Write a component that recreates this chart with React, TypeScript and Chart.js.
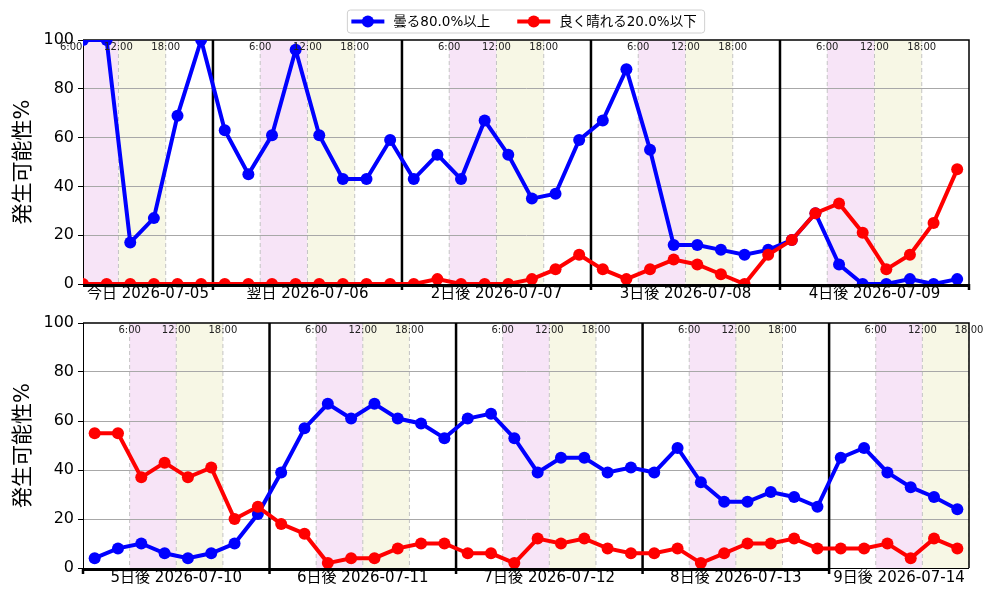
import { useEffect, useRef } from "react";
import { Chart, registerables } from "chart.js";

Chart.register(...registerables);

const FONT = "'DejaVu Sans', 'Noto Sans CJK JP', sans-serif";

const dayLabels = [
  "今日 2026-07-05",
  "翌日 2026-07-06",
  "2日後 2026-07-07",
  "3日後 2026-07-08",
  "4日後 2026-07-09",
  "5日後 2026-07-10",
  "6日後 2026-07-11",
  "7日後 2026-07-12",
  "8日後 2026-07-13",
  "9日後 2026-07-14",
];
const hourMarks = [6, 12, 18];
const hourLabels = ["6:00", "12:00", "18:00"];
const seriesNames = ["曇る80.0%以上", "良く晴れる20.0%以下"];
const seriesColors = ["#0000ff", "#ff0000"];

// 3-hourly values; top panel starts 07-05 7:30, bottom panel starts 07-10 1:30
const topCloudy = [
  100, 100, 17, 27, 69, 100,
  63, 45, 61, 96, 61, 43, 43, 59,
  43, 53, 43, 67, 53, 35, 37, 59,
  67, 88, 55, 16, 16, 14, 12, 14,
  18, 29, 8, 0, 0, 2, 0, 2,
];
const topClear = [
  0, 0, 0, 0, 0, 0,
  0, 0, 0, 0, 0, 0, 0, 0,
  0, 2, 0, 0, 0, 2, 6, 12,
  6, 2, 6, 10, 8, 4, 0, 12,
  18, 29, 33, 21, 6, 12, 25, 47,
];
const bottomCloudy = [
  4, 8, 10, 6, 4, 6, 10, 22,
  39, 57, 67, 61, 67, 61, 59, 53,
  61, 63, 53, 39, 45, 45, 39, 41,
  39, 49, 35, 27, 27, 31, 29, 25,
  45, 49, 39, 33, 29, 24,
];
const bottomClear = [
  55, 55, 37, 43, 37, 41, 20, 25,
  18, 14, 2, 4, 4, 8, 10, 10,
  6, 6, 2, 12, 10, 12, 8, 6,
  6, 8, 2, 6, 10, 10, 12, 8,
  8, 8, 10, 4, 12, 8,
];

type Panel = {
  days: number[];
  min: number; // hours since 07-05 0:00
  max: number;
  first: number;
  cloudy: number[];
  clear: number[];
  padTop: number;
  xHeight: number;
  legend: boolean;
};

const STEP = 3;

const panels: Panel[] = [
  { days: [0, 1, 2, 3, 4], min: 7.5, max: 120, first: 7.5, cloudy: topCloudy, clear: topClear, padTop: 40, xHeight: 21, legend: true },
  { days: [5, 6, 7, 8, 9], min: 120, max: 234, first: 121.5, cloudy: bottomCloudy, clear: bottomClear, padTop: 18, xHeight: 32, legend: false },
];

const toPoints = (p: Panel, vals: number[]) => vals.map((y, i) => ({ x: p.first + i * STEP, y }));

const drawLegend = (chart: any) => {
  const { ctx, chartArea } = chart;
  ctx.save();
  ctx.font = `13.5px ${FONT}`;
  const lineLen = 33;
  const textGap = 9;
  const itemGap = 27;
  const padL = 4;
  const padR = 8;
  const widths = seriesNames.map((n) => ctx.measureText(n).width);
  const total = padL + padR + widths.reduce((s, w) => s + lineLen + textGap + w, 0) + itemGap * (widths.length - 1);
  let x = (chartArea.left + chartArea.right) / 2 - total / 2;
  const top = 10;
  const h = 23;
  const cy = top + h / 2;
  ctx.beginPath();
  ctx.roundRect(x, top, total, h, 3);
  ctx.fillStyle = "rgba(255,255,255,0.8)";
  ctx.fill();
  ctx.strokeStyle = "#d0d0d0";
  ctx.lineWidth = 1;
  ctx.stroke();
  x += padL;
  seriesNames.forEach((n, i) => {
    ctx.strokeStyle = seriesColors[i];
    ctx.fillStyle = seriesColors[i];
    ctx.lineWidth = 4;
    ctx.beginPath();
    ctx.moveTo(x, cy);
    ctx.lineTo(x + lineLen, cy);
    ctx.stroke();
    ctx.beginPath();
    ctx.arc(x + lineLen / 2, cy, 6, 0, Math.PI * 2);
    ctx.fill();
    x += lineLen + textGap;
    ctx.fillStyle = "#000";
    ctx.textAlign = "left";
    ctx.textBaseline = "middle";
    ctx.fillText(n, x, cy + 1);
    x += widths[i] + itemGap;
  });
  ctx.restore();
};

const panelPlugin = (p: Panel) => ({
  id: "panelDecor",
  beforeDraw(chart: any) {
    const { ctx, chartArea: a, scales } = chart;
    const xs = scales.x;
    ctx.save();
    ctx.beginPath();
    ctx.rect(a.left, a.top, a.right - a.left, a.bottom - a.top);
    ctx.clip();
    p.days.forEach((d) => {
      const base = d * 24;
      ctx.fillStyle = "#f7e4f7";
      const x6 = xs.getPixelForValue(base + 6);
      const x12 = xs.getPixelForValue(base + 12);
      const x18 = xs.getPixelForValue(base + 18);
      ctx.fillRect(x6, a.top, x12 - x6, a.bottom - a.top);
      ctx.fillStyle = "#f7f7e5";
      ctx.fillRect(x12, a.top, x18 - x12, a.bottom - a.top);
      ctx.strokeStyle = "#c4c4c4";
      ctx.lineWidth = 1;
      ctx.setLineDash([4, 3]);
      hourMarks.forEach((h) => {
        const px = xs.getPixelForValue(base + h);
        ctx.beginPath();
        ctx.moveTo(px, a.top);
        ctx.lineTo(px, a.bottom);
        ctx.stroke();
      });
      ctx.setLineDash([]);
    });
    ctx.restore();
  },
  beforeDatasetsDraw(chart: any) {
    const { ctx, chartArea: a, scales } = chart;
    const xs = scales.x;
    ctx.save();
    ctx.strokeStyle = "#000";
    let lastBoundary = a.left;
    for (let d = 0; d <= 10; d++) {
      const t = d * 24;
      if (t < p.min || t > p.max) continue;
      const px = xs.getPixelForValue(t);
      lastBoundary = px;
      const inside = t > p.min && t < p.max;
      ctx.lineWidth = 2.5;
      ctx.beginPath();
      ctx.moveTo(px, inside ? a.top : a.bottom);
      ctx.lineTo(px, a.bottom + 6);
      ctx.stroke();
    }
    // spines
    ctx.lineWidth = 1.5;
    ctx.beginPath();
    ctx.moveTo(a.left, a.top);
    ctx.lineTo(a.right, a.top);
    ctx.lineTo(a.right, a.bottom);
    ctx.stroke();
    ctx.lineWidth = 1;
    ctx.beginPath();
    ctx.moveTo(a.left, a.bottom + 0.5);
    ctx.lineTo(a.right, a.bottom + 0.5);
    ctx.stroke();
    ctx.lineWidth = 3;
    ctx.beginPath();
    ctx.moveTo(a.left, a.bottom + 1.5);
    ctx.lineTo(lastBoundary, a.bottom + 1.5);
    ctx.stroke();
    ctx.restore();
  },
  afterDatasetsDraw(chart: any) {
    const { ctx, chartArea: a, scales } = chart;
    const xs = scales.x;
    ctx.save();
    ctx.font = `10px ${FONT}`;
    ctx.fillStyle = "#222";
    ctx.textAlign = "center";
    ctx.textBaseline = "top";
    p.days.forEach((d) => {
      hourMarks.forEach((h, i) => {
        ctx.fillText(hourLabels[i], xs.getPixelForValue(d * 24 + h), a.top + 2);
      });
    });
    ctx.restore();
  },
  afterDraw(chart: any) {
    if (p.legend) drawLegend(chart);
  },
});

const makeChart = (canvas: HTMLCanvasElement, p: Panel) => {
  const mids = p.days.map((d) => (Math.max(d * 24, p.min) + Math.min(d * 24 + 24, p.max)) / 2);
  return new Chart(canvas, {
    type: "line",
    data: {
      datasets: [
        {
          label: seriesNames[1],
          data: toPoints(p, p.clear),
          borderColor: seriesColors[1],
          backgroundColor: seriesColors[1],
          pointBackgroundColor: seriesColors[1],
          pointBorderWidth: 0,
          borderWidth: 4,
          pointRadius: 6,
          tension: 0,
          clip: 0,
          order: 0,
        },
        {
          label: seriesNames[0],
          data: toPoints(p, p.cloudy),
          borderColor: seriesColors[0],
          backgroundColor: seriesColors[0],
          pointBackgroundColor: seriesColors[0],
          pointBorderWidth: 0,
          borderWidth: 4,
          pointRadius: 6,
          tension: 0,
          clip: 0,
          order: 1,
        },
      ],
    },
    options: {
      responsive: false,
      animation: false,
      devicePixelRatio: 1,
      layout: { padding: { top: p.padTop, right: 31, left: 0, bottom: 0 } },
      plugins: { legend: { display: false }, tooltip: { enabled: false } },
      scales: {
        x: {
          type: "linear",
          min: p.min,
          max: p.max,
          grid: { display: false, drawTicks: false },
          border: { display: false },
          afterBuildTicks: (s: any) => {
            s.ticks = mids.map((v) => ({ value: v }));
          },
          afterFit: (s: any) => {
            s.height = p.xHeight;
          },
          ticks: {
            autoSkip: false,
            maxRotation: 0,
            minRotation: 0,
            padding: 1,
            color: "#000",
            font: { family: FONT, size: 15 },
            callback: (_v: any, i: number) => dayLabels[p.days[i]],
          },
        },
        y: {
          min: 0,
          max: 100,
          afterFit: (s: any) => {
            s.width = 83;
          },
          ticks: { stepSize: 20, padding: 4, color: "#000", font: { family: FONT, size: 16 } },
          grid: {
            color: (c: any) => (c.tick && (c.tick.value === 0 || c.tick.value === 100) ? "rgba(0,0,0,0)" : "#a8a8a8"),
            tickColor: "#000",
            tickLength: 5,
          },
          border: { display: true, color: "#000", width: 1 },
          title: {
            display: true,
            text: "発生可能性%",
            color: "#000",
            font: { family: FONT, size: 21 },
            padding: { top: 11, bottom: 0 },
          },
        },
      },
    },
    plugins: [panelPlugin(p)],
  } as any);
};

const App = () => {
  const topRef = useRef<HTMLCanvasElement>(null);
  const bottomRef = useRef<HTMLCanvasElement>(null);

  useEffect(() => {
    if (!topRef.current || !bottomRef.current) return;
    const charts = [makeChart(topRef.current, panels[0]), makeChart(bottomRef.current, panels[1])];
    return () => {
      charts.forEach((c) => c.destroy());
    };
  }, []);

  return (
    <div style={{ position: "absolute", left: 0, top: 0, width: 1000, height: 600, background: "#fff" }}>
      <canvas ref={topRef} width={1000} height={305} style={{ position: "absolute", left: 0, top: 0, width: 1000, height: 305 }} />
      <canvas ref={bottomRef} width={1000} height={295} style={{ position: "absolute", left: 0, top: 305, width: 1000, height: 295 }} />
    </div>
  );
};

export default App;
